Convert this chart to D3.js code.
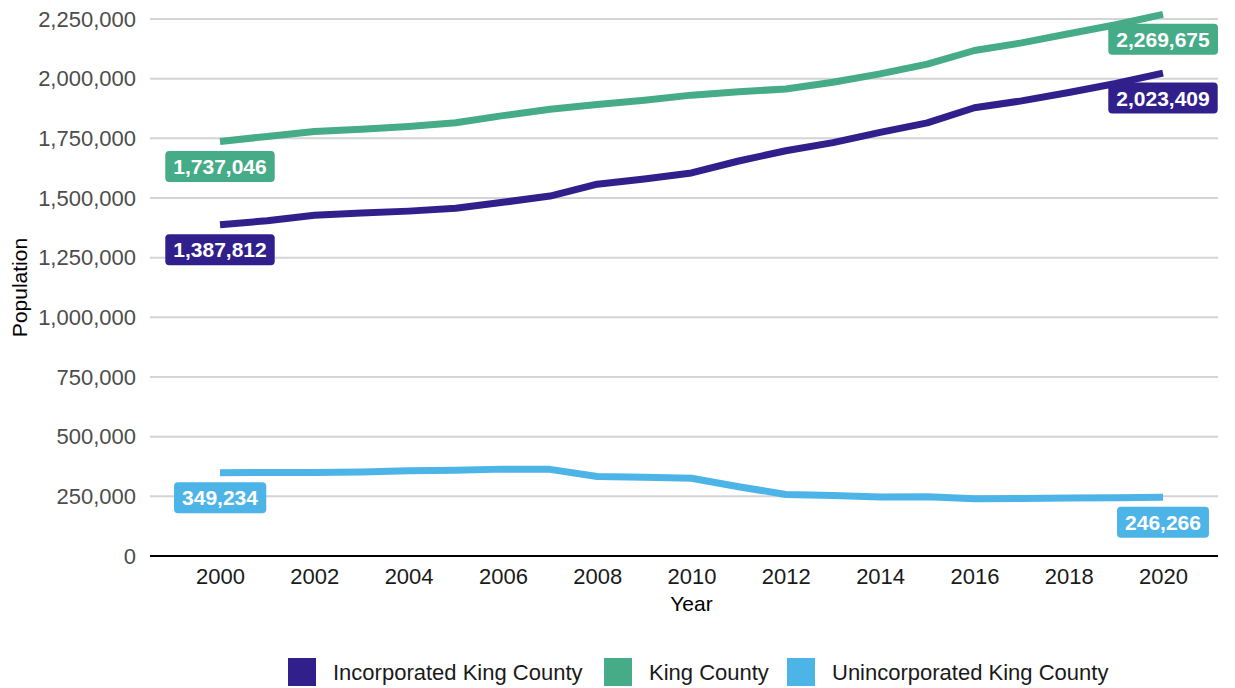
<!DOCTYPE html>
<html>
<head>
<meta charset="utf-8">
<script src="https://cdn.jsdelivr.net/npm/d3@7"></script>
<style>
  body { margin: 0; background: #fff; }
  text { font-family: "Liberation Sans", Arial, sans-serif; }
</style>
</head>
<body>
<script>
// Data
var years = [2000, 2001, 2002, 2003, 2004, 2005, 2006, 2007, 2008, 2009, 2010,
             2011, 2012, 2013, 2014, 2015, 2016, 2017, 2018, 2019, 2020];

var incorporated = [1387812, 1405000, 1428000, 1437000, 1445000, 1457000, 1482000, 1508000, 1558000, 1580000, 1605000,
                    1655000, 1698000, 1732000, 1775000, 1815000, 1878000, 1907000, 1942000, 1980000, 2023409];

var kingCounty = [1737046, 1758000, 1779000, 1788000, 1800000, 1815000, 1845000, 1872000, 1892000, 1910000, 1931000,
                  1945000, 1957000, 1985000, 2020000, 2061000, 2118000, 2150000, 2188000, 2226000, 2269675];

var unincorporated = [349234, 350000, 350000, 352000, 357000, 359000, 364000, 363000, 333000, 330000, 326000,
                      290000, 258000, 253000, 247000, 248000, 240000, 241000, 243000, 244000, 246266];

var seriesNames = ["Incorporated King County", "King County", "Unincorporated King County"];
var seriesColors = ["#31208b", "#46ac88", "#4db4e8"];
var yTicks = [0, 250000, 500000, 750000, 1000000, 1250000, 1500000, 1750000, 2000000, 2250000];
var xTicks = [2000, 2002, 2004, 2006, 2008, 2010, 2012, 2014, 2016, 2018, 2020];

//Formats
var width = 1235, height = 688;
var plotLeft = 150, plotRight = 1218, plotTop = 19, plotBottom = 556;

var svg = d3.select("body").append("svg")
  .attr("width", width)
  .attr("height", height);

//Scales
var x = d3.scaleLinear().domain([2000, 2020]).range([220, 1163]);
var y = d3.scaleLinear().domain([0, 2250000]).range([plotBottom, plotTop]);
var fmt = d3.format(",");

//Grid
svg.append("g")
  .selectAll("line")
  .data(yTicks.slice(1))
  .enter().append("line")
  .attr("x1", plotLeft).attr("x2", plotRight)
  .attr("y1", function(d) { return y(d); })
  .attr("y2", function(d) { return y(d); })
  .attr("stroke", "#d4d4d4")
  .attr("stroke-width", 2);

//Y axis
var yAxis = d3.axisLeft(y).tickValues(yTicks).tickFormat(fmt).tickSize(0).tickPadding(14);
var gy = svg.append("g")
  .attr("transform", "translate(" + plotLeft + ",0)")
  .call(yAxis);
gy.select(".domain").remove();
gy.selectAll("text")
  .attr("fill", "#4d4d4d")
  .style("font-size", "22px")
  .style("font-family", "'Liberation Sans', Arial, sans-serif");

//X axis
var xAxis = d3.axisBottom(x).tickValues(xTicks).tickFormat(d3.format("d")).tickSize(0).tickPadding(12);
var gx = svg.append("g")
  .attr("transform", "translate(0," + plotBottom + ")")
  .call(xAxis);
gx.select(".domain").remove();
gx.selectAll("text")
  .attr("fill", "#1a1a1a")
  .style("font-size", "22px")
  .style("font-family", "'Liberation Sans', Arial, sans-serif");

svg.append("line")
  .attr("x1", plotLeft).attr("x2", plotRight)
  .attr("y1", plotBottom).attr("y2", plotBottom)
  .attr("stroke", "#000")
  .attr("stroke-width", 2.2);

//Axis titles
svg.append("text")
  .attr("x", x(2010))
  .attr("y", 611)
  .attr("text-anchor", "middle")
  .attr("fill", "#000")
  .style("font-size", "21px")
  .text("Year");

svg.append("text")
  .attr("transform", "translate(27," + ((plotTop + plotBottom) / 2) + ") rotate(-90)")
  .attr("text-anchor", "middle")
  .attr("fill", "#000")
  .style("font-size", "21px")
  .text("Population");

//Lines
var allSeries = [incorporated, kingCounty, unincorporated];
var line = d3.line()
  .x(function(d, i) { return x(years[i]); })
  .y(function(d) { return y(d); });

allSeries.forEach(function(vals, k) {
  svg.append("path")
    .datum(vals)
    .attr("fill", "none")
    .attr("stroke", seriesColors[k])
    .attr("stroke-width", 7)
    .attr("stroke-linejoin", "round")
    .attr("stroke-linecap", "butt")
    .attr("d", line);
});

//Value labels at first and last year
allSeries.forEach(function(vals, k) {
  [0, vals.length - 1].forEach(function(i) {
    var g = svg.append("g")
      .attr("transform", "translate(" + x(years[i]) + "," + (y(vals[i]) + 25) + ")");
    var rect = g.append("rect").attr("fill", seriesColors[k]).attr("rx", 4);
    var t = g.append("text")
      .attr("text-anchor", "middle")
      .attr("dy", "0.36em")
      .attr("fill", "#fff")
      .style("font-size", "21px")
      .style("font-weight", "bold")
      .text(fmt(vals[i]));
    var bb = t.node().getBBox();
    rect.attr("x", bb.x - 8).attr("width", bb.width + 16)
      .attr("y", -15.5).attr("height", 31);
  });
});

//Legend
var legendX = [288, 604, 787];
var legend = svg.append("g");
seriesNames.forEach(function(name, k) {
  legend.append("rect")
    .attr("x", legendX[k]).attr("y", 658)
    .attr("width", 28).attr("height", 28)
    .attr("fill", seriesColors[k]);
  legend.append("text")
    .attr("x", legendX[k] + 45)
    .attr("y", 680)
    .attr("fill", "#1a1a1a")
    .style("font-size", "22px")
    .text(name);
});
</script>
</body>
</html>
